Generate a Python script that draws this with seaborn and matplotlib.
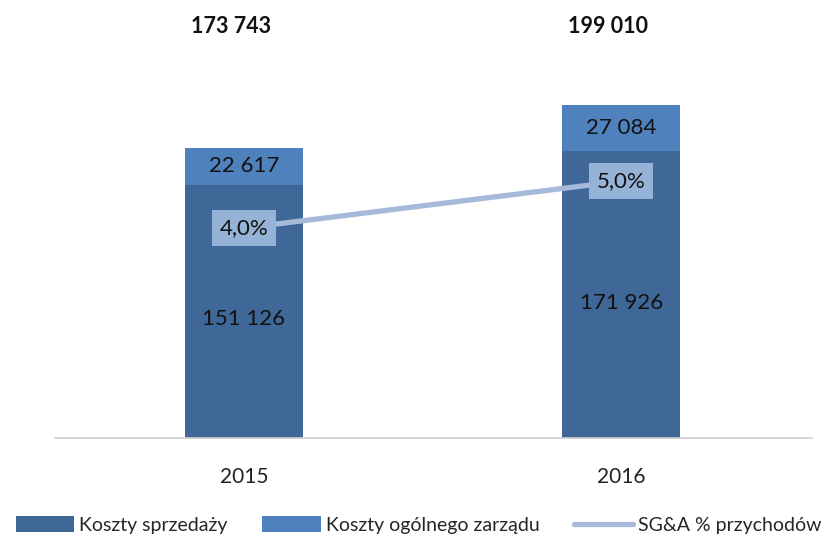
import matplotlib
matplotlib.use("Agg")
import matplotlib.pyplot as plt
import numpy as np
import pandas as pd
import seaborn as sns
from matplotlib.lines import Line2D
from matplotlib.patches import Patch

years = ["2015", "2016"]
sales_costs = [151126, 171926]
admin_costs = [22617, 27084]
totals = [173743, 199010]
sga_pct = [4.0, 5.0]

legend_labels = ["Koszty sprzedaży", "Koszty ogólnego zarządu", "SG&A % przychodów"]

DARK = "#3F6797"
LIGHT = "#4F81BD"
LINE = "#A7B9D8"
BOX = "#95B3D7"


def fmt_num(v):
    return f"{v:,}".replace(",", " ")


sns.set_theme(style="white")
plt.rcParams["font.family"] = ["Lato", "DejaVu Sans"]

df = pd.DataFrame({"year": years, "sales": sales_costs, "admin": admin_costs})
pos = np.arange(len(years))

fig = plt.figure(figsize=(8.37, 5.37), dpi=100)
ax = fig.add_axes([55 / 837, (537 - 438) / 537, (812 - 55) / 837, 418 / 537])

sns.barplot(data=df, x="year", y="sales", color=DARK, width=0.313,
            saturation=1, linewidth=0, ax=ax)
sns.barplot(data=df, x="year", y="admin", bottom=df["sales"], color=LIGHT,
            width=0.313, saturation=1, linewidth=0, ax=ax)

ax.set_xlim(-0.50, 1.505)
ax.set_ylim(0, 250000)
ax.set_xlabel("")
ax.set_ylabel("")
ax.set_yticks([])
for s in ["top", "right", "left"]:
    ax.spines[s].set_visible(False)
ax.spines["bottom"].set_color("#D0D0D0")
ax.spines["bottom"].set_linewidth(1.2)
ax.tick_params(axis="x", length=0, pad=21, labelsize=15, labelcolor="#222222")

for i in range(len(years)):
    ax.text(pos[i], sales_costs[i] * 0.47, fmt_num(sales_costs[i]),
            ha="center", va="center", fontsize=16, color="#111111")
    ax.text(pos[i], sales_costs[i] + admin_costs[i] / 2, fmt_num(admin_costs[i]),
            ha="center", va="center", fontsize=16, color="#111111")
    ax.text(pos[i] - 0.035, 0.985, fmt_num(totals[i]),
            transform=ax.get_xaxis_transform(),
            ha="center", va="center", fontsize=15.5, fontweight="bold",
            color="#111111")

ax2 = ax.twinx()
sns.lineplot(x=pos, y=sga_pct, color=LINE, linewidth=3.8, ax=ax2)
ax2.set_ylim(-0.468, 8.43)
ax2.set_yticks([])
for s in ["top", "right", "left", "bottom"]:
    ax2.spines[s].set_visible(False)
for i in range(len(years)):
    ax2.text(pos[i], sga_pct[i], f"{sga_pct[i]:.1f}%".replace(".", ","),
             ha="center", va="center", fontsize=16, color="#111111",
             bbox=dict(boxstyle="square,pad=0.35", facecolor=BOX,
                       edgecolor="none"))

handles = [
    Patch(facecolor=DARK, edgecolor="none"),
    Patch(facecolor=LIGHT, edgecolor="none"),
    Line2D([0], [0], color=LINE, linewidth=3.8),
]
fig.legend(handles, legend_labels, loc="center", bbox_to_anchor=(0.5, 12 / 537),
           ncol=3, frameon=False, fontsize=14, handlelength=3.0,
           handleheight=0.85, handletextpad=0.25, columnspacing=1.8,
           borderaxespad=0, borderpad=0)

fig.savefig("out.png", dpi=100)
